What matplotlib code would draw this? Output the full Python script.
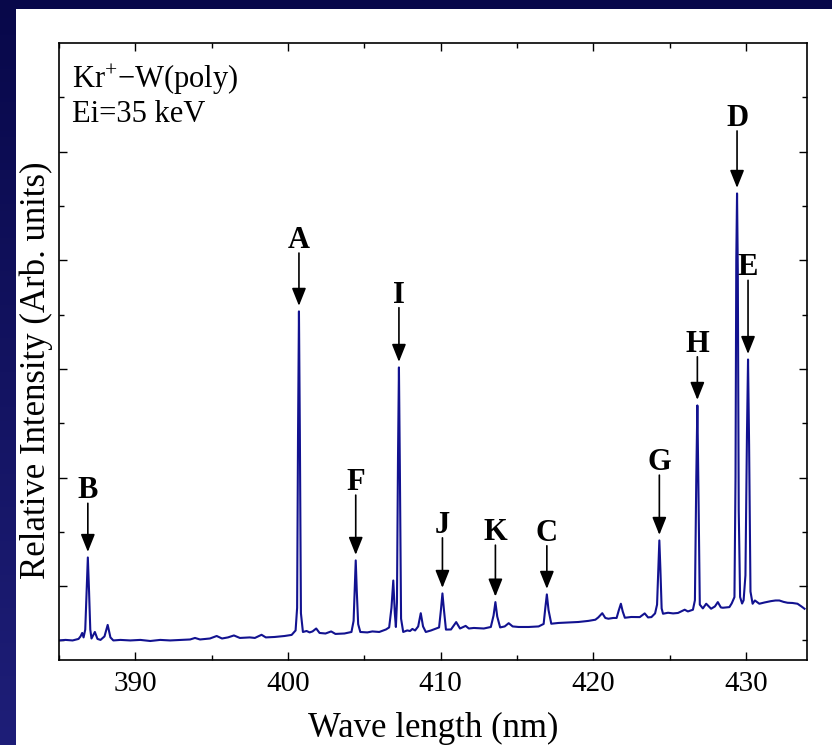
import numpy as np
import matplotlib
matplotlib.use('Agg')
import matplotlib.pyplot as plt
from matplotlib.colors import LinearSegmentedColormap
from matplotlib.patches import Rectangle
from matplotlib.ticker import FixedLocator, MultipleLocator

plt.rcParams['font.family'] = ['Liberation Serif', 'DejaVu Serif']
plt.rcParams['mathtext.fontset'] = 'custom'
plt.rcParams['mathtext.rm'] = 'Liberation Serif'
plt.rcParams['mathtext.default'] = 'regular'

# emission spectrum, Kr+ on polycrystalline W
wavelength = [
    385.01, 385.43, 385.89, 386.28, 386.41, 386.52, 386.61, 386.72, 386.81, 386.89,
    386.97, 387.05, 387.13, 387.35, 387.52, 387.72, 387.98, 388.19, 388.37, 388.56,
    389.02, 389.67, 390.33, 390.98, 391.63, 392.28, 392.94, 393.59, 393.91, 394.24,
    394.89, 395.33, 395.68, 396.07, 396.46, 396.85, 397.50, 397.83, 398.27, 398.55,
    399.13, 399.78, 400.24, 400.50, 400.60, 400.66, 400.72, 400.78, 400.85, 400.98,
    401.22, 401.42, 401.61, 401.85, 402.07, 402.46, 402.83, 403.11, 403.70, 404.16,
    404.30, 404.38, 404.44, 404.51, 404.60, 404.74, 405.20, 405.53, 405.98, 406.42,
    406.63, 406.78, 406.90, 407.00, 407.07, 407.14, 407.21, 407.27, 407.33, 407.41,
    407.55, 407.81, 408.00, 408.15, 408.33, 408.53, 408.70, 408.85, 409.03, 409.37,
    409.68, 409.90, 410.02, 410.12, 410.22, 410.35, 410.68, 411.02, 411.27, 411.64,
    411.85, 412.18, 412.83, 413.29, 413.47, 413.59, 413.71, 413.90, 414.20, 414.46,
    414.72, 415.11, 415.77, 416.42, 416.75, 416.86, 416.96, 417.07, 417.25, 417.72,
    418.38, 419.03, 419.68, 420.14, 420.33, 420.59, 420.79, 420.99, 421.31, 421.53,
    421.67, 421.81, 421.93, 422.07, 422.49, 423.05, 423.37, 423.59, 423.81, 424.05,
    424.18, 424.27, 424.33, 424.40, 424.48, 424.57, 424.90, 425.23, 425.55, 425.99,
    426.20, 426.53, 426.66, 426.75, 426.82, 426.89, 426.98, 427.18, 427.40, 427.72,
    427.97, 428.16, 428.36, 428.49, 428.92, 429.07, 429.25, 429.32, 429.37, 429.42,
    429.47, 429.53, 429.62, 429.75, 429.85, 429.97, 430.07, 430.14, 430.21, 430.30,
    430.44, 430.59, 430.88, 431.23, 431.64, 431.94, 432.19, 432.47, 432.73, 433.05,
    433.38, 433.64, 433.84,
]
intensity = [
    0.000, 0.005, 0.000, 0.014, 0.037, 0.069, 0.028, 0.100, 0.450, 0.764,
    0.450, 0.100, 0.018, 0.078, 0.014, 0.005, 0.037, 0.143, 0.028, 0.000,
    0.005, 0.000, 0.005, -0.005, 0.005, 0.000, 0.005, 0.009, 0.023, 0.009,
    0.018, 0.041, 0.018, 0.028, 0.046, 0.023, 0.028, 0.023, 0.052, 0.028,
    0.032, 0.041, 0.051, 0.092, 0.300, 1.900, 3.030, 1.900, 0.250, 0.078,
    0.087, 0.074, 0.083, 0.110, 0.069, 0.064, 0.083, 0.060, 0.064, 0.078,
    0.180, 0.500, 0.737, 0.450, 0.150, 0.078, 0.074, 0.083, 0.078, 0.101,
    0.120, 0.300, 0.552, 0.250, 0.124, 0.350, 1.700, 2.514, 1.600, 0.200,
    0.078, 0.092, 0.087, 0.106, 0.092, 0.129, 0.251, 0.129, 0.078, 0.092,
    0.108, 0.120, 0.280, 0.433, 0.280, 0.100, 0.101, 0.169, 0.110, 0.134,
    0.110, 0.115, 0.110, 0.124, 0.230, 0.353, 0.220, 0.120, 0.129, 0.159,
    0.129, 0.124, 0.124, 0.129, 0.152, 0.300, 0.424, 0.280, 0.154, 0.161,
    0.166, 0.170, 0.180, 0.191, 0.212, 0.251, 0.207, 0.200, 0.207, 0.207,
    0.276, 0.338, 0.267, 0.209, 0.216, 0.215, 0.249, 0.212, 0.215, 0.249,
    0.330, 0.700, 0.921, 0.650, 0.295, 0.246, 0.255, 0.249, 0.253, 0.283,
    0.267, 0.283, 0.370, 1.500, 2.164, 1.400, 0.330, 0.295, 0.338, 0.292,
    0.313, 0.353, 0.304, 0.301, 0.307, 0.341, 0.399, 1.500, 3.500, 4.116,
    3.400, 1.200, 0.400, 0.340, 0.370, 0.600, 1.900, 2.587, 1.800, 0.450,
    0.338, 0.368, 0.338, 0.350, 0.362, 0.368, 0.368, 0.355, 0.347, 0.345,
    0.338, 0.313, 0.292,
]

# identified lines
line_names = ['B', 'A', 'F', 'I', 'J', 'K', 'C', 'G', 'H', 'D', 'E']
line_wavelength = [386.89, 400.72, 404.44, 407.27, 410.12, 413.59,
                   416.96, 424.33, 426.82, 429.42, 430.14]
# arrow tail height above each peak, in points
arrow_len = [39, 42, 47, 43, 40, 41, 35, 47, 35, 45, 57]

wl = np.array(wavelength)
inten = np.array(intensity)

fig = plt.figure(figsize=(8.32, 7.45), dpi=100)

# navy slide backdrop with a white panel
bg = fig.add_axes([0, 0, 1, 1], zorder=-5)
bg.axis('off')
navy = LinearSegmentedColormap.from_list('navy', ['#08084a', '#1e1e78'])
bg.imshow(np.linspace(0, 1, 256)[:, None], aspect='auto', cmap=navy,
          extent=[0, 1, 0, 1], origin='upper')
bg.add_patch(Rectangle((16 / 832, 0), 1, 1 - 9 / 745, facecolor='white',
                       edgecolor='none'))
bg.set_xlim(0, 1)
bg.set_ylim(0, 1)

ax = fig.add_axes([0.0709, 0.1141, 0.899, 0.828])
ax.plot(wl, inten, color='#121290', lw=1.5)
ax.set_xlim(385, 434)
ax.set_ylim(-0.18, 5.5)

ax.xaxis.set_major_locator(MultipleLocator(10))
ax.xaxis.set_minor_locator(MultipleLocator(5))
ax.yaxis.set_major_locator(FixedLocator([0.5, 1.5, 2.5, 3.5, 4.5]))
ax.yaxis.set_minor_locator(FixedLocator([0, 1, 2, 3, 4, 5]))
ax.tick_params(which='both', direction='in', top=True, right=True,
               labelleft=False, labelsize=21, width=1, pad=8, colors='black')
ax.tick_params(which='major', length=6)
ax.tick_params(which='minor', length=3.5)
for sp in ax.spines.values():
    sp.set_linewidth(1.2)

# arrows and letters over each line
for name, nm, ln in zip(line_names, line_wavelength, arrow_len):
    top = inten[np.abs(wl - nm) < 0.3].max()
    ax.annotate('', xy=(nm, top), xytext=(0, ln), textcoords='offset points',
                arrowprops=dict(arrowstyle='-|>,head_length=0.9,head_width=0.36',
                                mutation_scale=12, color='black', lw=1.2,
                                shrinkA=0, shrinkB=4))
    ax.annotate(name, xy=(nm, top), xytext=(0, ln + 3.6),
                textcoords='offset points', ha='center', va='baseline',
                fontsize=22, fontweight='bold')

ax.text(0.018, 0.927, 'Kr$^{+}$\u2212W(poly)', transform=ax.transAxes,
        fontsize=22, va='baseline', ha='left')
ax.text(0.018, 0.872, 'Ei=35 keV', transform=ax.transAxes,
        fontsize=22, va='baseline', ha='left')

fig.text(433 / 832, 1 - 728 / 745, 'Wave length (nm)', fontsize=25,
         ha='center', va='center')
fig.text(36 / 832, 1 - 370 / 745, 'Relative Intensity (Arb. units)',
         fontsize=25, rotation=90, ha='center', va='center')

fig.savefig('out.png', dpi=100, facecolor=fig.get_facecolor())
